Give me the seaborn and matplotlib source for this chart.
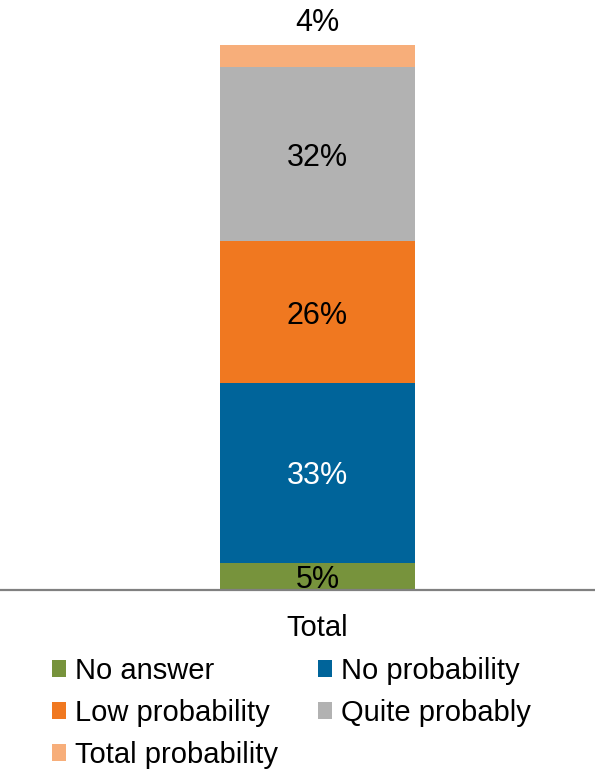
import numpy as np
import pandas as pd
import matplotlib
matplotlib.use("Agg")
import matplotlib.pyplot as plt
import seaborn as sns
from matplotlib.patches import Patch

sns.set_style("white")
plt.rcParams['font.family'] = ['Liberation Sans', 'DejaVu Sans']
plt.rcParams['text.color'] = 'black'
plt.rcParams['xtick.color'] = 'black'

category = ["Total"]
series = ["No answer", "No probability", "Low probability", "Quite probably", "Total probability"]
values = [5, 33, 26, 32, 4]
colors = ["#77933C", "#00649A", "#F07820", "#B2B2B2", "#F7AE7A"]
label_colors = ["black", "white", "black", "black", "black"]

fig = plt.figure(figsize=(5.95, 7.7), dpi=100)
ax = fig.add_axes([0, 180 / 770, 1, 590 / 770])

# stacked bar: draw cumulative totals from tallest to shortest
cum = np.cumsum(values)
for i in range(len(values) - 1, -1, -1):
    df = pd.DataFrame({"cat": category, "val": [cum[i]]})
    sns.barplot(data=df, x="cat", y="val", color=colors[i], width=0.6,
                saturation=1, ax=ax, edgecolor="none", linewidth=0)

bottoms = cum - np.array(values)
for i, v in enumerate(values):
    if i == len(values) - 1:
        ypos = cum[-1] + 4.6
    else:
        ypos = bottoms[i] + v / 2
    ax.text(0, ypos, f"{v}%", ha="center", va="center_baseline", fontsize=22,
            color=label_colors[i], clip_on=False)

w = 0.6 * 595 / 195
xmin = -0.3 - 220 / 595 * w
ax.set_xlim(xmin, xmin + w)
ax.set_ylim(0, 100 * 590 / 545)
ax.set_xlabel("")
ax.set_ylabel("")
ax.set_yticks([])
ax.tick_params(axis="x", length=0, pad=17, labelsize=21, labelcolor="black")
for s in ["left", "right", "top"]:
    ax.spines[s].set_visible(False)
ax.spines["bottom"].set_color("#808080")
ax.spines["bottom"].set_linewidth(1.6)

handles = [Patch(facecolor=c, edgecolor="none", label=s) for s, c in zip(series, colors)]
order = [0, 2, 4, 1, 3]
fig.legend([handles[i] for i in order], [series[i] for i in order],
           loc="upper left", bbox_to_anchor=(0.087, 0.147), ncol=2, frameon=False,
           fontsize=21, handlelength=0.48, handleheight=0.48, handletextpad=0.3,
           columnspacing=1.4, labelspacing=0.48, borderaxespad=0, borderpad=0,
           labelcolor="black")

plt.savefig("out.png", dpi=100)
